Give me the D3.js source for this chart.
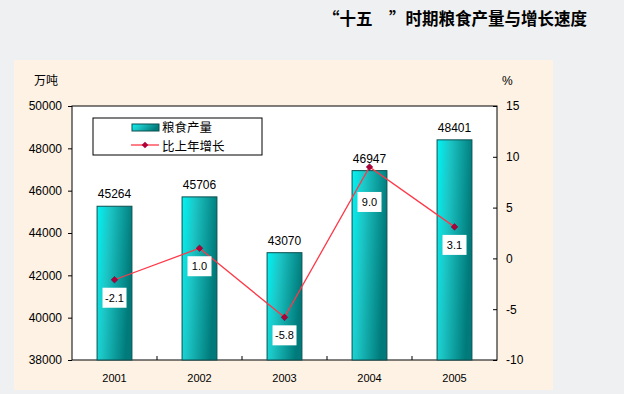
<!DOCTYPE html>
<html>
<head>
  <meta charset="utf-8">
  <script src="https://d3js.org/d3.v7.min.js"></script>
  <style>
    body { margin: 0; background: #eef0f1; }
    svg { display: block; }
    text { font-family: "Liberation Sans", Arial, "Noto Sans CJK SC", sans-serif; fill: #000; }
    .cjk { font-family: "Noto Sans CJK SC", sans-serif; }
  </style>
</head>
<body>
  <script>
    const years = ["2001", "2002", "2003", "2004", "2005"];
    const output = [45264, 45706, 43070, 46947, 48401];
    const growth = [-2.1, 1.0, -5.8, 9.0, 3.1];
    const leftTicks = [38000, 40000, 42000, 44000, 46000, 48000, 50000];
    const rightTicks = [-10, -5, 0, 5, 10, 15];

    const width = 624, height = 394;
    const plot = { left: 72, right: 497, top: 106, bottom: 360 };

    const svg = d3.select("body").append("svg")
      .attr("width", width)
      .attr("height", height);

    const defs = svg.append("defs");
    const grad = defs.append("linearGradient")
      .attr("id", "barFill")
      .attr("x1", "0").attr("y1", "0")
      .attr("x2", "1").attr("y2", "0.25");
    grad.append("stop").attr("offset", "0%").attr("stop-color", "#00f4f4");
    grad.append("stop").attr("offset", "35%").attr("stop-color", "#1cc6c6");
    grad.append("stop").attr("offset", "100%").attr("stop-color", "#007a7a");

    // outer panel
    svg.append("rect")
      .attr("x", 14).attr("y", 60)
      .attr("width", 539).attr("height", 330)
      .attr("fill", "#fdf2e4");

    // title
    svg.append("text")
      .attr("class", "cjk")
      .attr("x", 587).attr("y", 25)
      .attr("text-anchor", "end")
      .attr("font-size", 16.5)
      .attr("font-weight", "bold")
      .text("“十五　”时期粮食产量与增长速度");

    const x = d3.scaleBand().domain(years).range([plot.left, plot.right]);
    const yL = d3.scaleLinear().domain([38000, 50000]).range([plot.bottom, plot.top]);
    const yR = d3.scaleLinear().domain([-10, 15]).range([plot.bottom, plot.top]);

    // plot area
    svg.append("rect")
      .attr("x", plot.left).attr("y", plot.top)
      .attr("width", plot.right - plot.left)
      .attr("height", plot.bottom - plot.top)
      .attr("fill", "#fff")
      .attr("stroke", "#000")
      .attr("stroke-width", 1);

    const barW = x.bandwidth() * 0.41;

    svg.append("g").selectAll("rect")
      .data(output)
      .join("rect")
      .attr("x", (d, i) => x(years[i]) + x.bandwidth() / 2 - barW / 2)
      .attr("y", d => yL(d))
      .attr("width", barW)
      .attr("height", d => plot.bottom - yL(d))
      .attr("fill", "url(#barFill)")
      .attr("stroke", "#0b4f4f")
      .attr("stroke-width", 1);

    svg.append("g").selectAll("text")
      .data(output)
      .join("text")
      .attr("x", (d, i) => x(years[i]) + x.bandwidth() / 2)
      .attr("y", d => yL(d) - 8)
      .attr("text-anchor", "middle")
      .attr("font-size", 12)
      .text(d => d);

    // axes
    const axisL = svg.append("g")
      .attr("transform", `translate(${plot.left},0)`)
      .call(d3.axisLeft(yL).tickValues(leftTicks).tickSize(4).tickPadding(6).tickFormat(d => String(d)));
    const axisR = svg.append("g")
      .attr("transform", `translate(${plot.right},0)`)
      .call(d3.axisRight(yR).tickValues(rightTicks).tickSizeInner(-4).tickSizeOuter(0).tickPadding(9)
        .tickFormat(d => String(d)));
    const axisB = svg.append("g")
      .attr("transform", `translate(0,${plot.bottom})`)
      .call(d3.axisBottom(x).tickSize(0).tickPadding(14));
    [axisL, axisR, axisB].forEach(g => {
      g.select(".domain").remove();
      g.selectAll("text").attr("font-size", 12).attr("fill", "#000")
        .style("font-family", "'Liberation Sans', Arial, sans-serif");
      g.selectAll("line").attr("stroke", "#000");
    });
    axisB.selectAll("text").attr("font-size", 11);

    // category separators on x axis (inside ticks)
    svg.append("g").selectAll("line")
      .data(years.slice(1))
      .join("line")
      .attr("x1", d => x(d)).attr("x2", d => x(d))
      .attr("y1", plot.bottom).attr("y2", plot.bottom - 4)
      .attr("stroke", "#000");

    // unit labels
    svg.append("text").attr("class", "cjk")
      .attr("x", 34).attr("y", 85).attr("font-size", 12).text("万吨");
    svg.append("text")
      .attr("x", 502).attr("y", 85).attr("font-size", 12).text("%");

    // growth line
    const cx = i => x(years[i]) + x.bandwidth() / 2;
    const line = d3.line().x((d, i) => cx(i)).y(d => yR(d));
    svg.append("path")
      .datum(growth)
      .attr("d", line)
      .attr("fill", "none")
      .attr("stroke", "#ff3848")
      .attr("stroke-width", 1.3);

    const diamond = d3.symbol().type(d3.symbolSquare).size(22);
    svg.append("g").selectAll("path")
      .data(growth)
      .join("path")
      .attr("transform", (d, i) => `translate(${cx(i)},${yR(d)}) rotate(45)`)
      .attr("d", diamond)
      .attr("fill", "#b0003a")
      .attr("stroke", "#70002a")
      .attr("stroke-width", 0.5);

    // label sits lower when the point overlaps the bar's value label
    const labelDy = (d, i) => (yR(d) < yL(output[i]) + 10 ? 35 : 18);
    const lbl = svg.append("g").selectAll("g")
      .data(growth)
      .join("g")
      .attr("transform", (d, i) => `translate(${cx(i)},${yR(d) + labelDy(d, i)})`);
    lbl.append("rect")
      .attr("x", -12).attr("y", -10)
      .attr("width", 24).attr("height", 20)
      .attr("fill", "#fff");
    lbl.append("text")
      .attr("text-anchor", "middle")
      .attr("dy", "0.35em")
      .attr("font-size", 11)
      .text(d => d.toFixed(1));

    // legend
    const lg = svg.append("g").attr("transform", "translate(93,118)");
    lg.append("rect")
      .attr("width", 169).attr("height", 37)
      .attr("fill", "#fff").attr("stroke", "#000");
    lg.append("rect")
      .attr("x", 39).attr("y", 6).attr("width", 27).attr("height", 7)
      .attr("fill", "url(#barFill)").attr("stroke", "#0b4f4f");
    lg.append("text").attr("class", "cjk")
      .attr("x", 69).attr("y", 14).attr("font-size", 12.5).text("粮食产量");
    lg.append("line")
      .attr("x1", 38).attr("x2", 66).attr("y1", 27).attr("y2", 27)
      .attr("stroke", "#ff3848").attr("stroke-width", 1.3);
    lg.append("path")
      .attr("transform", "translate(52,27) rotate(45)")
      .attr("d", diamond)
      .attr("fill", "#b0003a");
    lg.append("text").attr("class", "cjk")
      .attr("x", 69).attr("y", 32.5).attr("font-size", 12.5).text("比上年增长");
  </script>
</body>
</html>
